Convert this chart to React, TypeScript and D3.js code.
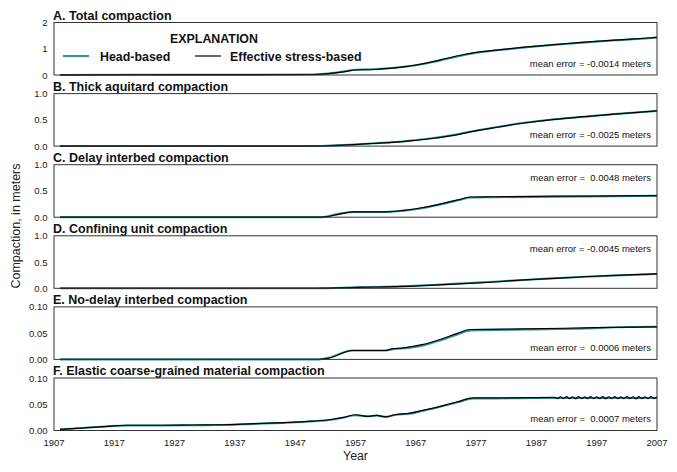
import React from "react";
import * as d3 from "d3";

// Panel titles, y-axis domains and tick labels
const panelTitles = [
  "A. Total compaction",
  "B. Thick aquitard compaction",
  "C. Delay interbed compaction",
  "D. Confining unit compaction",
  "E. No-delay interbed compaction",
  "F. Elastic coarse-grained material compaction",
];
const panelMax = [2, 1, 1, 1, 0.1, 0.1];
const panelTicks = [
  ["0", "1", "2"],
  ["0.0", "0.5", "1.0"],
  ["0.0", "0.5", "1.0"],
  ["0.0", "0.5", "1.0"],
  ["0.00", "0.05", "0.10"],
  ["0.00", "0.05", "0.10"],
];
const meanErrors = [
  "mean error = -0.0014 meters",
  "mean error = -0.0025 meters",
  "mean error =  0.0048 meters",
  "mean error = -0.0045 meters",
  "mean error =  0.0006 meters",
  "mean error =  0.0007 meters",
];
// where the mean-error note sits: bottom or top of the panel
const meanErrorPlace = ["bottom", "bottom", "top", "top", "bottom", "bottom"];

const yearTicks = [1907, 1917, 1927, 1937, 1947, 1957, 1967, 1977, 1987, 1997, 2007];

// A. Total compaction
const totalYears = [1908, 1920, 1940, 1950, 1952, 1955, 1957, 1960, 1962, 1965, 1967, 1970, 1972, 1975, 1977, 1980, 1985, 1990, 1995, 2000, 2005, 2007];
const totalHead = [0.002, 0.01, 0.013, 0.02, 0.045, 0.13, 0.2, 0.215, 0.245, 0.31, 0.37, 0.5, 0.61, 0.76, 0.85, 0.93, 1.05, 1.15, 1.24, 1.32, 1.39, 1.43];
const totalEff = [0.002, 0.01, 0.013, 0.02, 0.04, 0.12, 0.19, 0.21, 0.24, 0.31, 0.38, 0.52, 0.63, 0.78, 0.86, 0.94, 1.06, 1.16, 1.25, 1.33, 1.4, 1.43];

// B. Thick aquitard
const aquitardYears = [1908, 1950, 1953, 1956, 1960, 1963, 1966, 1970, 1973, 1976, 1980, 1985, 1990, 1995, 2000, 2007];
const aquitardHead = [0, 0, 0.012, 0.028, 0.053, 0.073, 0.103, 0.155, 0.207, 0.275, 0.355, 0.443, 0.51, 0.56, 0.61, 0.668];
const aquitardEff = [0, 0, 0.01, 0.025, 0.05, 0.07, 0.1, 0.15, 0.2, 0.27, 0.35, 0.44, 0.51, 0.56, 0.61, 0.67];

// C. Delay interbeds
const delayYears = [1908, 1951, 1952, 1954, 1956.5, 1962, 1965, 1968, 1971, 1974, 1976, 1980, 1990, 2000, 2007];
const delayHead = [0, 0, 0.01, 0.06, 0.1, 0.1, 0.125, 0.17, 0.24, 0.32, 0.375, 0.38, 0.39, 0.4, 0.41];
const delayEff = [0, 0, 0.005, 0.05, 0.1, 0.1, 0.13, 0.18, 0.25, 0.33, 0.385, 0.39, 0.4, 0.405, 0.41];

// D. Confining unit
const confiningYears = [1908, 1950, 1955, 1960, 1965, 1970, 1975, 1980, 1985, 1990, 1995, 2000, 2007];
const confiningHead = [0, 0, 0.012, 0.027, 0.04, 0.065, 0.095, 0.125, 0.16, 0.19, 0.22, 0.245, 0.275];
const confiningEff = [0, 0, 0.01, 0.025, 0.035, 0.06, 0.09, 0.12, 0.16, 0.19, 0.22, 0.245, 0.275];

// E. No-delay interbeds
const noDelayYears = [1908, 1951, 1952.5, 1956.5, 1962, 1963, 1965, 1968, 1971, 1974, 1976, 1985, 1995, 2000, 2007];
const noDelayHead = [0, 0, 0.003, 0.017, 0.017, 0.019, 0.021, 0.026, 0.036, 0.048, 0.055, 0.057, 0.059, 0.061, 0.062];
const noDelayEff = [0, 0, 0.002, 0.017, 0.017, 0.02, 0.022, 0.028, 0.038, 0.05, 0.057, 0.058, 0.06, 0.061, 0.062];

// F. Elastic coarse-grained material (seasonal ripple after 1990)
const elasticYears = [
  1908, 1912, 1916, 1919, 1925, 1930, 1935, 1940, 1945, 1950, 1953, 1955, 1957, 1959, 1960.5, 1962, 1963.5, 1966, 1968, 1971, 1974, 1976.5, 1980, 1985, 1990,
  1990.5, 1991, 1991.5, 1992, 1992.5, 1993, 1993.5, 1994, 1994.5, 1995, 1995.5, 1996, 1996.5, 1997, 1997.5, 1998, 1998.5, 1999, 1999.5, 2000,
  2000.5, 2001, 2001.5, 2002, 2002.5, 2003, 2003.5, 2004, 2004.5, 2005, 2005.5, 2006, 2006.5, 2007,
];
const elasticHead = [
  0.002, 0.005, 0.008, 0.0095, 0.0095, 0.01, 0.0105, 0.0125, 0.0145, 0.0175, 0.0205, 0.0245, 0.029, 0.027, 0.0285, 0.026, 0.0295, 0.032, 0.037, 0.045, 0.054, 0.061, 0.061, 0.0615, 0.062,
  0.062, 0.062, 0.062, 0.062, 0.062, 0.062, 0.062, 0.062, 0.062, 0.062, 0.062, 0.062, 0.062, 0.062, 0.062, 0.062, 0.062, 0.062, 0.062, 0.062,
  0.062, 0.062, 0.062, 0.062, 0.062, 0.062, 0.062, 0.062, 0.062, 0.062, 0.062, 0.062, 0.062, 0.062,
];
const elasticEff = [
  0.002, 0.005, 0.008, 0.01, 0.01, 0.0105, 0.011, 0.013, 0.015, 0.018, 0.021, 0.025, 0.03, 0.027, 0.029, 0.026, 0.03, 0.033, 0.038, 0.046, 0.055, 0.062, 0.062, 0.0625, 0.063,
  0.0606, 0.0643, 0.0607, 0.0644, 0.0606, 0.0643, 0.0605, 0.0644, 0.0607, 0.0643, 0.0606, 0.0644, 0.0607, 0.0643, 0.0606, 0.0644, 0.0605, 0.0643, 0.0607, 0.0644,
  0.0606, 0.0643, 0.0607, 0.0644, 0.0606, 0.0643, 0.0605, 0.0644, 0.0607, 0.0643, 0.0606, 0.0644, 0.0607, 0.0638,
];

const panelYears = [totalYears, aquitardYears, delayYears, confiningYears, noDelayYears, elasticYears];
const panelHead = [totalHead, aquitardHead, delayHead, confiningHead, noDelayHead, elasticHead];
const panelEff = [totalEff, aquitardEff, delayEff, confiningEff, noDelayEff, elasticEff];

const W = 677;
const H = 472;
const left = 54;
const right = 657;
const top0 = 22.5;
const stride = 71.1;
const ph = 52.5;

const TEAL = "#2b9496";
const FONT = "'Liberation Sans', Arial, Helvetica, sans-serif";

export default function App() {
  const x = d3.scaleLinear().domain([1907, 2007]).range([left, right]);

  return (
    <svg
      width={W}
      height={H}
      style={{ position: "absolute", left: 0, top: 0, background: "#fff" }}
      fontFamily={FONT}
    >
      <rect x={0} y={0} width={W} height={H} fill="#fff" />
      {panelTitles.map((title, i) => {
        const top = top0 + i * stride;
        const y = d3.scaleLinear().domain([0, panelMax[i]]).range([top + ph, top]);
        const line = d3
          .line<number>()
          .x((_, k) => x(panelYears[i][k]))
          .y((v) => y(v))
          .curve(d3.curveMonotoneX);
        const tickVals = [0, panelMax[i] / 2, panelMax[i]];
        const meY = meanErrorPlace[i] === "top" ? top + 12.5 : top + 40.5;
        return (
          <g key={title}>
            <text x={left - 1} y={top - 3} fontSize={12.5} fontWeight="bold" fill="#111">
              {title}
            </text>
            {tickVals.map((t, k) => (
              <text
                key={k}
                x={left - 6.5}
                y={y(t)}
                fontSize={9.5}
                textAnchor="end"
                dominantBaseline="central"
                fill="#222"
              >
                {panelTicks[i][k]}
              </text>
            ))}
            <path d={line(panelHead[i]) || ""} fill="none" stroke={TEAL} strokeWidth={2} />
            <path d={line(panelEff[i]) || ""} fill="none" stroke="#000" strokeWidth={1.2} />
            <rect x={left} y={top} width={right - left} height={ph} fill="none" stroke="#333" strokeWidth={1} />
            <text
              x={right - 6}
              y={meY}
              fontSize={9.5}
              textAnchor="end"
              dominantBaseline="central"
              fill="#111"
              style={{ whiteSpace: "pre" }}
            >
              {meanErrors[i]}
            </text>
          </g>
        );
      })}

      {/* legend inside the first panel */}
      <g>
        <text x={214} y={39} fontSize={12.4} fontWeight="bold" textAnchor="middle" dominantBaseline="central" fill="#111">
          EXPLANATION
        </text>
        <line x1={63} x2={89} y1={56} y2={56} stroke={TEAL} strokeWidth={2} />
        <text x={100} y={56.5} fontSize={12.4} fontWeight="bold" dominantBaseline="central" fill="#111">
          Head-based
        </text>
        <line x1={195} x2={221} y1={56} y2={56} stroke="#000" strokeWidth={1.2} />
        <text x={230} y={56.5} fontSize={12.4} fontWeight="bold" dominantBaseline="central" fill="#111">
          Effective stress-based
        </text>
      </g>

      {/* x axis tick labels under the bottom panel */}
      {yearTicks.map((t) => (
        <text key={t} x={x(t)} y={442} fontSize={9.5} textAnchor="middle" dominantBaseline="central" fill="#222">
          {t}
        </text>
      ))}
      <text x={(left + right) / 2} y={456} fontSize={12.3} textAnchor="middle" dominantBaseline="central" fill="#222">
        Year
      </text>
      <text
        x={0}
        y={0}
        transform={`translate(16,226) rotate(-90)`}
        fontSize={12.5}
        textAnchor="middle"
        dominantBaseline="central"
        fill="#222"
      >
        Compaction, in meters
      </text>
    </svg>
  );
}
